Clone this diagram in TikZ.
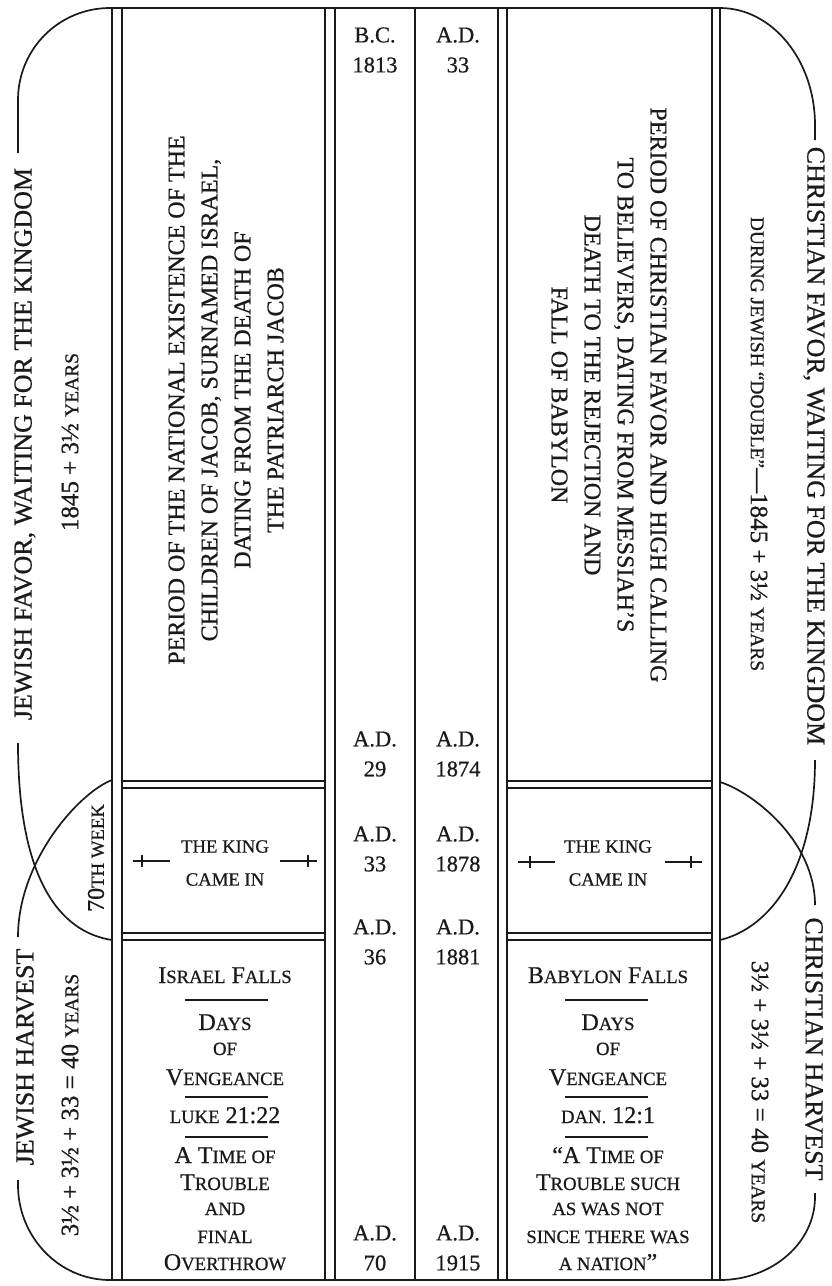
\documentclass[tikz,border=0pt]{standalone}
\usepackage{fontspec}
\setmainfont{Liberation Serif}[FakeBold=0.7]
\usepackage{graphicx}
\usepackage{tikz}
\definecolor{ink}{HTML}{1A1A1A}
\newcommand{\sm}[1]{\scalebox{0.78}{#1}}

\begin{document}
\begin{tikzpicture}[x=1pt,y=-1pt,
  frame/.style={draw=ink,line width=1.7pt},
  col/.style={draw=ink,line width=1.4pt},
  sword/.style={draw=ink,line width=1.9pt},
  title/.style={text=ink,inner sep=0pt,font=\fontsize{26}{30}\selectfont},
  sub/.style={text=ink,inner sep=0pt,font=\fontsize{25}{30}\selectfont},
  period/.style={text=ink,inner sep=0pt,align=center,font=\fontsize{24}{33}\selectfont},
  date/.style={text=ink,inner sep=0pt,align=center,font=\fontsize{22.5}{30}\selectfont},
  low/.style={text=ink,inner sep=0pt,anchor=base,font=\fontsize{24}{27}\selectfont},
  king/.style={text=ink,inner sep=0pt,align=center,font=\fontsize{18.7}{33}\selectfont}]
  \useasboundingbox (0,0) rectangle (831,1286);

  % outer frame, broken by the side titles
  \draw[frame] (18,153) -- (18,100) .. controls (18,49) and (59,8) .. (110,8) -- (720,8)
    .. controls (772,8) and (815,60) .. (815,125) -- (815,140);
  \draw[frame] (18,1180) -- (18,1185) .. controls (18,1237) and (59,1280) .. (110,1280) -- (720,1280)
    .. controls (772,1280) and (815,1243) .. (815,1197) -- (815,1193);
  % the crossing arcs of the 70th week
  \draw[frame] (18,743) .. controls (18,880) and (60,932) .. (112,940);
  \draw[frame] (112,780) .. controls (80,792) and (18,860) .. (18,937);
  \draw[frame] (815,760) .. controls (815,870) and (770,928) .. (720,940);
  \draw[frame] (720,782) .. controls (752,792) and (815,840) .. (815,905);

  % column rules
  \foreach \x in {112,122,325,335,415,498,507,712,720}
    { \draw[col] (\x,8) -- (\x,1280); }
  \foreach \y in {781,788,933,940}
    { \draw[col] (122,\y) -- (325,\y); \draw[col] (507,\y) -- (712,\y); }
  \foreach \y in {1000,1097,1137}
    { \draw[col] (185,\y) -- (268,\y); \draw[col] (565,\y) -- (648,\y); }

  % jewish side
  \node[title,rotate=90] (jfav) at (25,444) {JEWISH FAVOR, WAITING FOR THE KINGDOM};
  \node[sub,rotate=90] (jyrs) at (70,442) {1845 + 3½ \sm{YEARS}};
  \node[sub,rotate=90,font=\fontsize{24}{30}\selectfont] (week) at (96,858) {70\sm{TH WEEK}};
  \node[title,rotate=90] (jharv) at (25,1057) {JEWISH HARVEST};
  \node[sub,rotate=90] (jsum) at (70,1105) {3½ + 3½ + 33 = 40 \sm{YEARS}};
  \node[period,rotate=90] (jper) at (226,400) {PERIOD OF THE NATIONAL EXISTENCE OF THE\\CHILDREN OF JACOB, SURNAMED ISRAEL,\\DATING FROM THE DEATH OF\\THE PATRIARCH JACOB};
  \node[king] (jking) at (225,863) {THE KING\\CAME IN};
  \draw[sword] (133,861) -- (170,861); \draw[sword] (142,855) -- (142,867);
  \draw[sword] (280,861) -- (317,861); \draw[sword] (308,855) -- (308,867);
  \foreach \y/\t [count=\i] in {983/{I\sm{SRAEL} F\sm{ALLS}}, 1030/{D\sm{AYS}}, 1055/{\sm{OF}},
      1085/{V\sm{ENGEANCE}}, 1123/{\sm{LUKE} 21:22}, 1163/{A T\sm{IME OF}}, 1190/{T\sm{ROUBLE}},
      1215/{\sm{AND}}, 1243/{\sm{FINAL}}, 1270/{O\sm{VERTHROW}}}
    { \node[low] (jl\i) at (225,\y) {\t}; }

  % dates
  \foreach \y/\a/\b [count=\i] in {50/B.C./1813, 754/A.D./29, 849/A.D./33, 942/A.D./36, 1248/A.D./70}
    { \node[date] (jd\i) at (375,\y) {\a\\\b}; }
  \foreach \y/\b [count=\i] in {50/33, 754/1874, 849/1878, 942/1881, 1248/1915}
    { \node[date] (cd\i) at (458,\y) {A.D.\\\b}; }

  % christian side
  \node[title,rotate=-90] (cfav) at (814,446) {CHRISTIAN FAVOR, WAITING FOR THE KINGDOM};
  \node[sub,rotate=-90] (cyrs) at (759,444) {\sm{DURING JEWISH “DOUBLE”}—1845 + 3½ \sm{YEARS}};
  \node[title,rotate=-90] (charv) at (814,1049) {CHRISTIAN HARVEST};
  \node[sub,rotate=-90] (csum) at (760,1092) {3½ + 3½ + 33 = 40 \sm{YEARS}};
  \node[period,rotate=-90] (cper) at (609,395) {PERIOD OF CHRISTIAN FAVOR AND HIGH CALLING\\TO BELIEVERS, DATING FROM MESSIAH'S\\DEATH TO THE REJECTION AND\\FALL OF BABYLON};
  \node[king] (cking) at (608,863) {THE KING\\CAME IN};
  \draw[sword] (518,862) -- (555,862); \draw[sword] (530,856) -- (530,868);
  \draw[sword] (665,862) -- (702,862); \draw[sword] (691,856) -- (691,868);
  \foreach \y/\t [count=\i] in {983/{B\sm{ABYLON} F\sm{ALLS}}, 1030/{D\sm{AYS}}, 1055/{\sm{OF}},
      1085/{V\sm{ENGEANCE}}, 1123/{\sm{DAN.} 12:1}, 1163/{“A T\sm{IME OF}}, 1190/{T\sm{ROUBLE SUCH}},
      1215/{\sm{AS WAS NOT}}, 1243/{\sm{SINCE THERE WAS}}, 1270/{\sm{A NATION}”}}
    { \node[low] (cl\i) at (608,\y) {\t}; }
\end{tikzpicture}
\end{document}
